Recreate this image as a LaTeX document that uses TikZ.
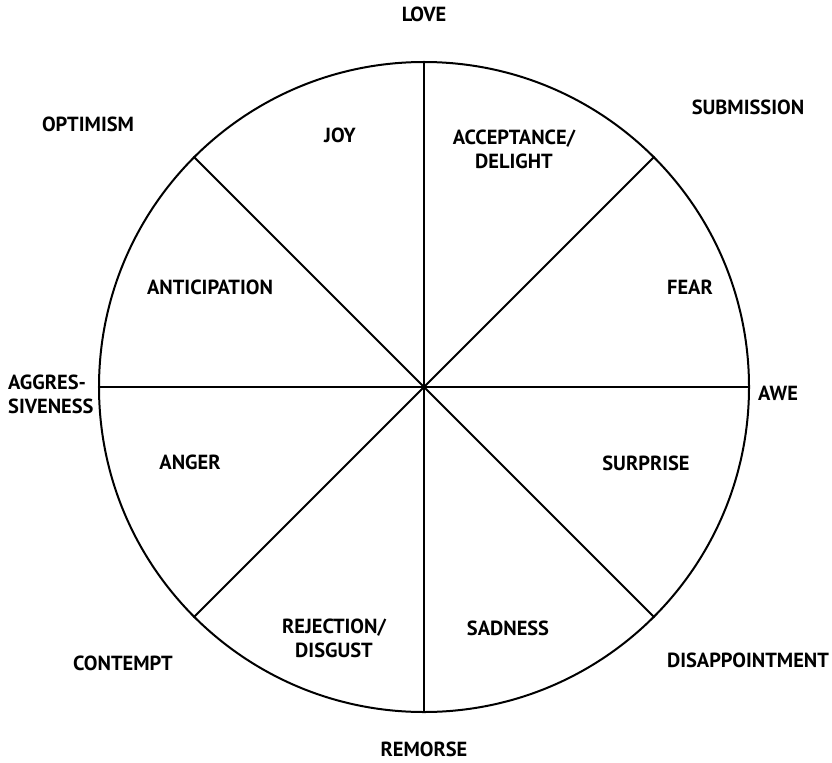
\documentclass[tikz,border=0pt]{standalone}
\usepackage{fontspec}
\setmainfont{PT Sans}
\begin{document}
\begin{tikzpicture}[x=1bp,y=-1bp,
  lbl/.style={font=\bfseries\fontsize{20.5}{24}\selectfont, inner sep=0pt, align=center},
  wheel/.style={line width=2bp, black}]
\useasboundingbox (0,0) rectangle (832,763);
\coordinate (c) at (424,387);
\node[wheel, circle, draw, minimum size=650bp, inner sep=0pt] (w) at (c) {};
\foreach \a in {0,45,...,315}{
  \draw[wheel] (c) -- (w.\a);
}
% outer labels
\node[lbl] (love) at (424,14) {LOVE};
\node[lbl] (subm) at (748,107) {SUBMISSION};
\node[lbl] (opt) at (88,124) {OPTIMISM};
\node[lbl, align=left, anchor=west] (aggr) at (8,394) {AGGRES-\\SIVENESS};
\node[lbl, anchor=west] (awe) at (758,393) {AWE};
\node[lbl] (cont) at (123,663) {CONTEMPT};
\node[lbl] (disap) at (748,660) {DISAPPOINTMENT};
\node[lbl] (rem) at (424,749) {REMORSE};
% inner labels
\node[lbl] (joy) at (340,135) {JOY};
\node[lbl] (acc) at (514,149) {ACCEPTANCE/\\DELIGHT};
\node[lbl] (ant) at (210,287) {ANTICIPATION};
\node[lbl] (fear) at (690,287) {FEAR};
\node[lbl] (ang) at (190,462) {ANGER};
\node[lbl] (surp) at (646,463) {SURPRISE};
\node[lbl] (rej) at (334,638) {REJECTION/\\DISGUST};
\node[lbl] (sad) at (508,628) {SADNESS};
\end{tikzpicture}
\end{document}
